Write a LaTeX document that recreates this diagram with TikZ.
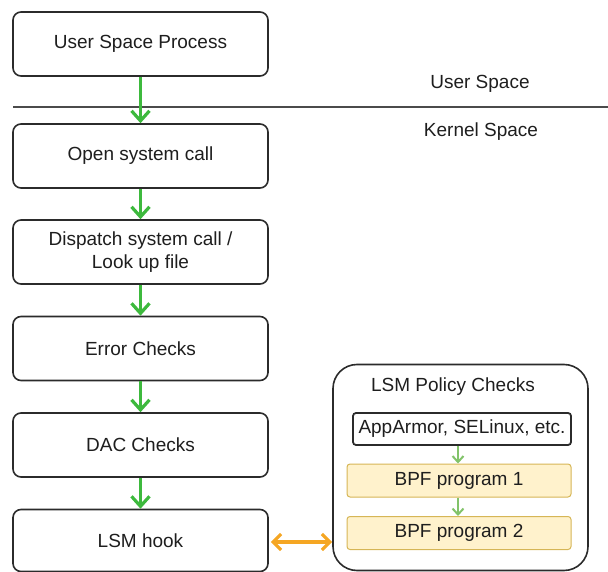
\documentclass[tikz,border=0pt]{standalone}
\usepackage{fontspec}
\setmainfont{Liberation Sans}
\usetikzlibrary{arrows.meta}
\definecolor{bordc}{HTML}{2B2B2B}
\definecolor{arrg}{HTML}{3DB93D}
\definecolor{arrlg}{HTML}{82C36A}
\definecolor{arro}{HTML}{F5A623}
\definecolor{bpffill}{HTML}{FFF2CC}
\definecolor{bpfdraw}{HTML}{D6B656}
\definecolor{txtc}{HTML}{1E1E1E}
\tikzset{
  stepbox/.style={draw=bordc, line width=1.6pt, rounded corners=8pt, fill=white,
    minimum width=255pt, minimum height=64pt, align=center, text=txtc,
    font=\fontsize{19}{23}\selectfont, inner sep=0pt},
  flow/.style={draw=arrg, line width=3.2pt, -{Straight Barb[length=10pt,width=18pt,line width=3.2pt]}},
  smallflow/.style={draw=arrlg, line width=2pt, -{Straight Barb[length=6pt,width=11pt,line width=2pt]}},
  bpfbox/.style={draw=bpfdraw, line width=1pt, rounded corners=3pt, fill=bpffill,
    minimum width=224pt, minimum height=33pt, text=txtc,
    font=\fontsize{19}{23}\selectfont, inner sep=0pt},
  lbl/.style={text=txtc, font=\fontsize{19}{23}\selectfont, inner sep=0pt}
}
\begin{document}
\begin{tikzpicture}[x=1pt,y=-1pt]
\useasboundingbox (0,0) rectangle (608,572);
% separator
\coordinate (sepL) at (13,107);
\coordinate (sepR) at (608,107);
\draw[draw=bordc!85, line width=1.6pt] (sepL) -- (sepR);
\node[lbl] (us) at (480,84) {User Space};
\node[lbl] (ks) at (481,132) {Kernel Space};
% left column
\node[stepbox] (usp) at (140.5,44) {User Space Process};
\node[stepbox] (open) at (140.5,156) {Open system call};
\node[stepbox] (disp) at (140.5,252) {Dispatch system call /\\Look up file};
\node[stepbox] (err) at (140.5,348.5) {Error Checks};
\node[stepbox] (dac) at (140.5,445) {DAC Checks};
\node[stepbox, minimum height=62pt] (hook) at (140.5,540.5) {LSM hook};
\draw[flow] (usp) -- (open);
\draw[flow] (open) -- (disp);
\draw[flow] (disp) -- (err);
\draw[flow] (err) -- (dac);
\draw[flow] (dac) -- (hook);
% policy box
\node[draw=bordc, line width=1.6pt, rounded corners=24pt, minimum width=255pt, minimum height=206pt, inner sep=0pt] (pol) at (460.5,467.5) {};
\node[lbl] (polt) at (453,387) {LSM Policy Checks};
\node[draw=bordc, line width=1.8pt, rounded corners=3pt, fill=white, minimum width=218pt, minimum height=32pt, text=txtc, font=\fontsize{19}{23}\selectfont, inner sep=0pt] (aa) at (462,429) {AppArmor, SELinux, etc.};
\node[bpfbox] (b1) at (459,480.5) {BPF program 1};
\node[bpfbox] (b2) at (459,533) {BPF program 2};
\draw[smallflow] (aa.south -| 458,0) -- (b1.north -| 458,0);
\draw[smallflow] (b1.south -| 458,0) -- (b2.north -| 458,0);
\draw[draw=arro, line width=3.2pt, {Straight Barb[length=8pt,width=16pt,line width=3.2pt]}-{Straight Barb[length=8pt,width=16pt,line width=3.2pt]}] (hook.east |- 0,542) ++(2,0) -- (pol.west |- 0,542);
\end{tikzpicture}
\end{document}
